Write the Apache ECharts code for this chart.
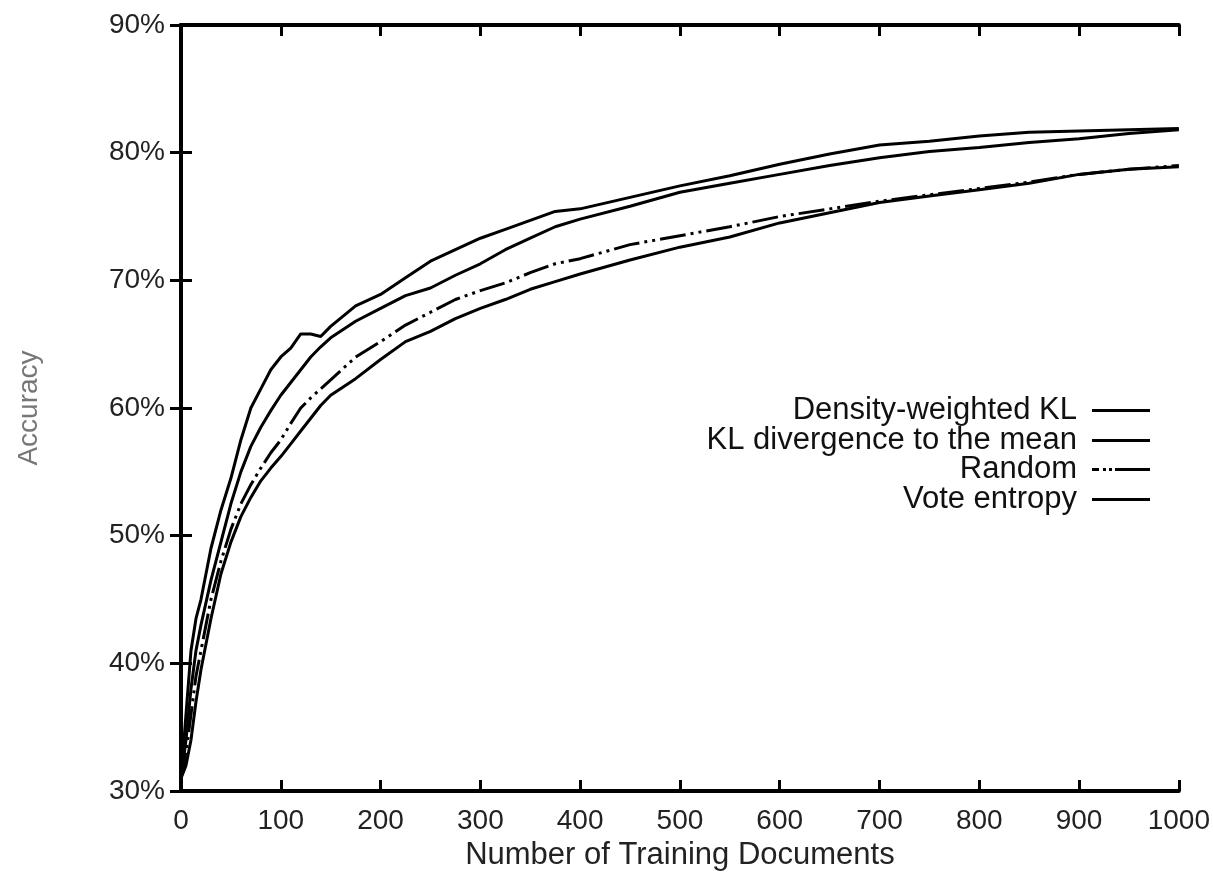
<!DOCTYPE html>
<html>
<head>
<meta charset="utf-8">
<script src="https://cdn.jsdelivr.net/npm/echarts@6/dist/echarts.min.js"></script>
<style>
html,body{margin:0;padding:0;background:#fff;}
#c{width:1213px;height:876px;}
</style>
</head>
<body>
<div id="c"></div>
<script>
const xDocs = [0,5,10,15,20,30,40,50,60,70,80,90,100,110,120,130,140,150,175,200,225,250,275,300,325,350,375,400,450,500,550,600,650,700,750,800,850,900,950,1000];
const densityKL = [31,36,41,43.5,45,49,52,54.5,57.5,60,61.5,63,64,64.7,65.8,65.8,65.6,66.4,68,68.9,70.2,71.5,72.4,73.3,74,74.7,75.4,75.6,76.5,77.4,78.2,79.1,79.9,80.6,80.9,81.3,81.6,81.7,81.8,81.9];
const klMean = [31,34,38,41,43,46.5,49.5,52.5,55,57,58.5,59.8,61,62,63,64,64.8,65.5,66.8,67.8,68.8,69.4,70.4,71.3,72.4,73.3,74.2,74.8,75.8,76.9,77.6,78.3,79,79.6,80.1,80.4,80.8,81.1,81.5,81.8];
const randomSel = [31,33,36,39,41,45,48,50.5,52.5,54,55.3,56.5,57.5,58.8,60,60.8,61.5,62.2,64,65.2,66.5,67.5,68.5,69.2,69.8,70.6,71.3,71.7,72.8,73.5,74.2,75,75.6,76.2,76.7,77.2,77.7,78.3,78.7,79];
const voteEntropy = [31,32,34,37,39.5,43.5,47,49.5,51.5,53,54.3,55.3,56.2,57.2,58.2,59.2,60.2,61,62.3,63.8,65.2,66,67,67.8,68.5,69.3,69.9,70.5,71.6,72.6,73.4,74.5,75.3,76.1,76.6,77.1,77.6,78.3,78.7,78.9];
const seriesNames = ['Density-weighted KL','KL divergence to the mean','Random','Vote entropy'];
const xTitle = 'Number of Training Documents';
const yTitle = 'Accuracy';

const font = 'Liberation Sans, Arial, sans-serif';
const pair = ys => xDocs.map((x,i)=>[x, ys[i]]);
const allY = [densityKL, klMean, randomSel, voteEntropy];

const solidIcon = 'path://M0,0h58v3h-58z';
const dashIcon = 'path://M0,0h7v3h-7z M11,0h3v3h-3z M17,0h3v3h-3z M23,0h35v3h-35z';

const axisLineStyle = {color:'#000', width:4};
const ticks = {show:true, inside:true, length:11, lineStyle:{color:'#000', width:3}};

const chart = echarts.init(document.getElementById('c'), null, {renderer:'canvas'});
const legendRows = [395, 425, 454, 484];
chart.setOption({
  animation:false,
  backgroundColor:'#fff',
  grid:{left:181, right:27, top:25, bottom:74, containLabel:false},
  xAxis:[{
    type:'value', min:0, max:1000, interval:100,
    name:xTitle, nameLocation:'middle', nameGap:45,
    nameTextStyle:{fontFamily:font, fontSize:31, color:'#222'},
    axisLine:{show:true, lineStyle:axisLineStyle},
    axisTick:ticks,
    axisLabel:{fontFamily:font, fontSize:28, color:'#222', margin:16, formatter:v=>String(v)},
    splitLine:{show:false}
  },{
    type:'value', position:'top', min:0, max:1000, interval:100,
    axisLine:{show:true, lineStyle:axisLineStyle},
    axisTick:ticks, axisLabel:{show:false}, splitLine:{show:false}
  }],
  yAxis:[{
    type:'value', min:30, max:90, interval:10,
    name:yTitle, nameLocation:'middle', nameGap:138, nameRotate:90,
    nameTextStyle:{fontFamily:font, fontSize:28, color:'#777'},
    axisLine:{show:true, lineStyle:axisLineStyle},
    axisTick:ticks,
    axisLabel:{fontFamily:font, fontSize:28, color:'#222', margin:16, formatter:'{value}%'},
    splitLine:{show:false}
  },{
    type:'value', position:'right', min:30, max:90, interval:10,
    axisLine:{show:true, lineStyle:axisLineStyle},
    axisTick:ticks, axisLabel:{show:false}, splitLine:{show:false}
  }],
  legend: seriesNames.map((n,i)=>({
    data:[{name:n, icon: i===2 ? dashIcon : solidIcon}],
    right:63, top:legendRows[i], orient:'vertical', align:'right',
    padding:0, itemWidth:58, itemHeight:3, selectedMode:false,
    itemStyle:{color:'#000'},
    textStyle:{fontFamily:font, fontSize:31, color:'#111', padding:[0,10,0,0]}
  })),
  series: seriesNames.map((n,i)=>({
    name:n, type:'line', data:pair(allY[i]), showSymbol:false,
    lineStyle:{color:'#000', width:3, type: i===2 ? [26,5,3,5,3,5] : 'solid'},
    itemStyle:{color:'#000'}
  }))
});
</script>
</body>
</html>
